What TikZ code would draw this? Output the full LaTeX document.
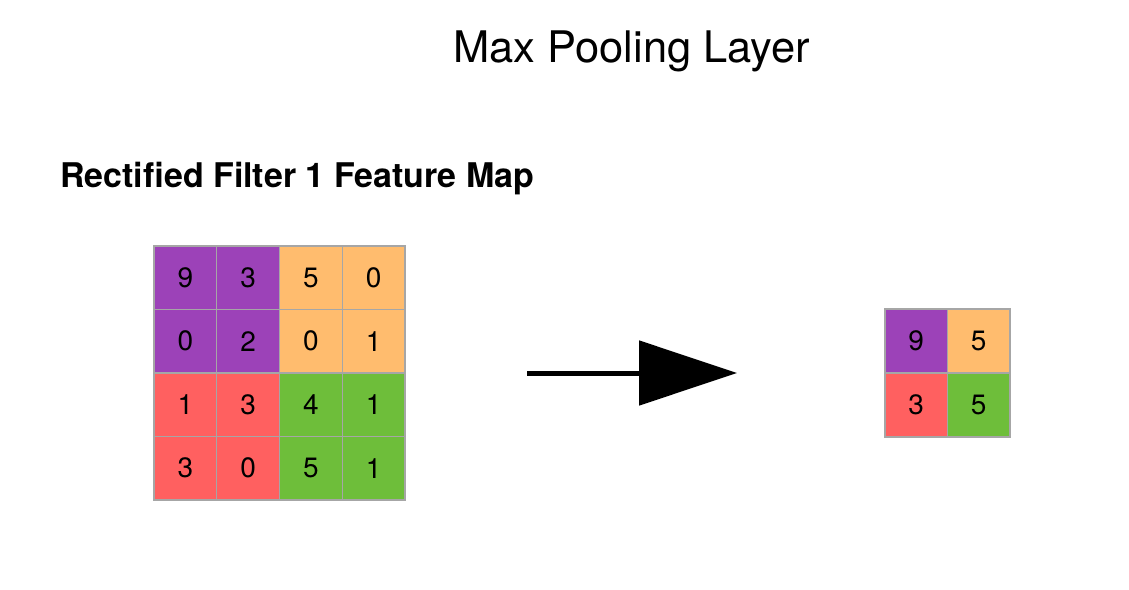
\documentclass[tikz,border=0pt]{standalone}
\usepackage{fontspec}
\setmainfont{TeX Gyre Heros}
\usetikzlibrary{arrows.meta}
\definecolor{pur}{RGB}{156,66,184}
\definecolor{org}{RGB}{255,188,110}
\definecolor{rd}{RGB}{255,96,96}
\definecolor{grn}{RGB}{110,190,58}
\tikzset{
    fcell/.style={draw=gray!70, line width=1.2pt, minimum width=62.7pt, minimum height=63.5pt,
        inner sep=0pt, font=\fontsize{28}{28}\selectfont},
    pcell/.style={fcell, minimum width=62.5pt, minimum height=64pt}
}
\begin{document}
\begin{tikzpicture}[x=1pt,y=-1pt]
\useasboundingbox (0,0) rectangle (1129,589);
\node[anchor=base west, inner sep=0pt, font=\fontsize{43.5}{43.5}\selectfont] (title) at (453,62) {Max Pooling Layer};
\node[anchor=base west, inner sep=0pt, font=\fontsize{34}{34}\selectfont\bfseries] (maptitle) at (60,187) {Rectified Filter 1 Feature Map};
% feature map
\foreach \i/\j/\v/\c in {1/1/9/pur,1/2/3/pur,1/3/5/org,1/4/0/org,
                         2/1/0/pur,2/2/2/pur,2/3/0/org,2/4/1/org,
                         3/1/1/rd,3/2/3/rd,3/3/4/grn,3/4/1/grn,
                         4/1/3/rd,4/2/0/rd,4/3/5/grn,4/4/1/grn}
{
    \node[fcell, fill=\c] (a\i\j) at ({154+62.75*(\j-0.5)},{246+63.5*(\i-0.5)}) {\v};
}
% pooled map
\foreach \i/\j/\v/\c in {1/1/9/pur,1/2/5/org,2/1/3/rd,2/2/5/grn}
{
    \node[pcell, fill=\c] (p\i\j) at ({885+62.5*(\j-0.5)},{309+64*(\i-0.5)}) {\v};
}
\coordinate (arrs) at (527,373);
\coordinate (arre) at (737,373);
\draw[line width=5pt, -{Triangle[length=98pt,width=64pt]}] (arrs)--(arre);
\end{tikzpicture}
\end{document}
